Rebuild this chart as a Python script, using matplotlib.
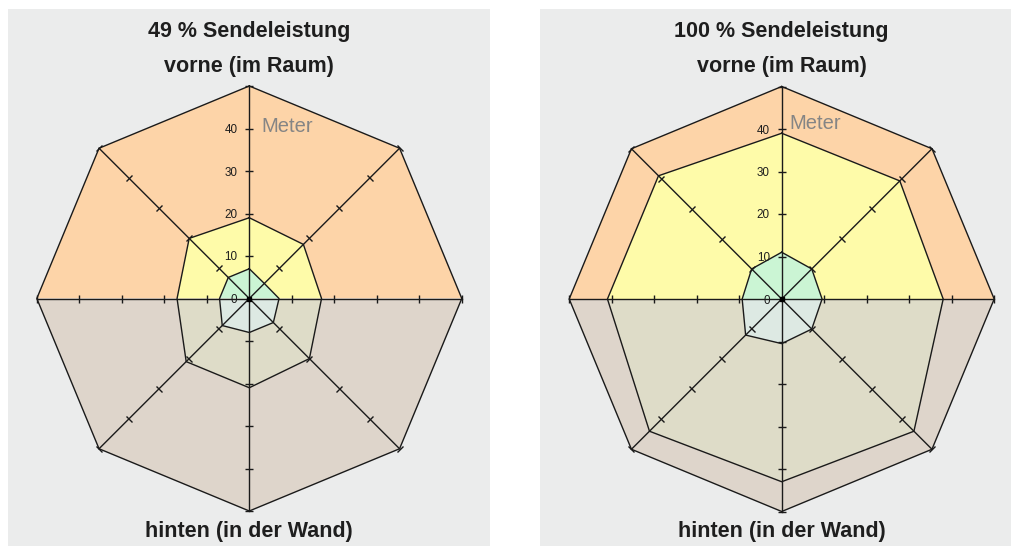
import numpy as np
import matplotlib
matplotlib.use("Agg")
import matplotlib.pyplot as plt
from matplotlib.markers import MarkerStyle
from matplotlib.transforms import Affine2D
from matplotlib.patches import Rectangle

W, H, DPI = 1011, 546, 100

# Directions, clockwise starting at the front (top)
directions_deg = [0, 45, 90, 135, 180, 225, 270, 315]
scale_ticks = [10, 20, 30, 40, 50]
label_values = [0, 10, 20, 30, 40]
tick_labels = ["0", "10", "20", "30", "40"]
r_max = 50

panel_titles = ["49 % Sendeleistung", "100 % Sendeleistung"]
front_label = "vorne (im Raum)"
back_label = "hinten (in der Wand)"
unit_label = "Meter"

# Range in metres for each direction
outer_49 = [50, 50, 50, 50, 50, 50, 50, 50]
middle_49 = [19, 18, 17, 20, 21, 21, 17, 20]
inner_49 = [7, 5, 7, 8, 8, 9, 7, 7]

outer_100 = [50, 50, 50, 50, 50, 50, 50, 50]
middle_100 = [39, 39.3, 38, 44, 43, 44, 41, 41]
inner_100 = [11, 10, 9.5, 10, 10.5, 12, 9.3, 10]

# zone colours: (front half, back half)
zone_colors = [
    ("#fdd4a8", "#ded5cb"),
    ("#fefba9", "#dedcc8"),
    ("#cbf5d4", "#dde9e3"),
]
panel_bg = "#ebecec"
line_col = "#1a1a1a"

theta = np.deg2rad(directions_deg)
FRONT = [6, 7, 0, 1, 2]
BACK = [2, 3, 4, 5, 6]

plt.rcParams["font.family"] = ["Liberation Sans", "DejaVu Sans"]

fig = plt.figure(figsize=(W / DPI, H / DPI), dpi=DPI)
fig.patch.set_facecolor("white")


def fx(px):
    return px / W


def fy(py):
    return 1 - py / H


def draw_panel(bg_x0, bg_x1, cx, cy, radius_px, title, zones, unit_off):
    fig.patches.append(Rectangle((fx(bg_x0), 0), fx(bg_x1) - fx(bg_x0), fy(9),
                                 transform=fig.transFigure, facecolor=panel_bg,
                                 edgecolor="none", zorder=-5))
    ax = fig.add_axes([fx(cx - radius_px), fy(cy + radius_px),
                       2 * radius_px / W, 2 * radius_px / H], projection="polar")
    ax.set_zorder(2)
    ax.set_theta_zero_location("N")
    ax.set_theta_direction(-1)
    ax.set_ylim(0, r_max)
    ax.grid(False)
    ax.set_xticks([])
    ax.set_yticks([])
    ax.spines["polar"].set_visible(False)
    ax.patch.set_visible(False)

    # filled zones, split into front and back halves
    for vals, (cf, cb) in zip(zones, zone_colors):
        vals = np.asarray(vals, float)
        for idx, col in ((FRONT, cf), (BACK, cb)):
            t = np.concatenate([[0.0], theta[idx]])
            r = np.concatenate([[0.0], vals[idx]])
            ax.fill(t, r, color=col, lw=0, zorder=1, clip_on=False)
    # zone outlines
    for vals in zones:
        t = np.append(theta, theta[0])
        r = np.append(vals, vals[0])
        ax.plot(t, r, color=line_col, lw=1.0, zorder=3, clip_on=False)
    # spokes with perpendicular ticks
    for th_deg, th in zip(directions_deg, theta):
        ax.plot([th, th], [0, r_max], color=line_col, lw=1.0, zorder=4, clip_on=False)
        m = MarkerStyle("_", transform=Affine2D().rotate_deg(-th_deg))
        ax.plot([th] * len(scale_ticks), scale_ticks, ls="none", marker=m,
                markersize=5.4, markeredgewidth=1.0, color=line_col,
                zorder=5, clip_on=False)
    ax.plot([0], [0], marker="s", markersize=3, color="black", zorder=6, clip_on=False)

    for v, s in zip(label_values, tick_labels):
        ax.annotate(s, xy=(0, v), xytext=(-12, -1.5), textcoords="offset pixels",
                    ha="right", va="center", fontsize=8.4, color="#1e1e1e",
                    annotation_clip=False, zorder=7)
    ax.annotate(unit_label, xy=(0, 40), xytext=unit_off, textcoords="offset pixels",
                ha="left", va="baseline", fontsize=14.5, color="#858585",
                annotation_clip=False, zorder=7)

    fig.text(fx(cx), fy(37.3), title, ha="center", va="baseline",
             fontsize=15.5, fontweight="bold", color="#1e1e1e")
    fig.text(fx(cx), fy(71.7), front_label, ha="center", va="baseline",
             fontsize=15.5, fontweight="bold", color="#1e1e1e")
    fig.text(fx(cx), fy(536.7), back_label, ha="center", va="baseline",
             fontsize=15.5, fontweight="bold", color="#1e1e1e")


draw_panel(8, 490, 249.3, 298.5, 212.5, panel_titles[0],
           [outer_49, middle_49, inner_49], (12, -3.5))
draw_panel(540, 1011, 781.7, 299, 212.5, panel_titles[1],
           [outer_100, middle_100, inner_100], (8, 0))

fig.savefig("out.png", dpi=DPI, facecolor=fig.get_facecolor())
